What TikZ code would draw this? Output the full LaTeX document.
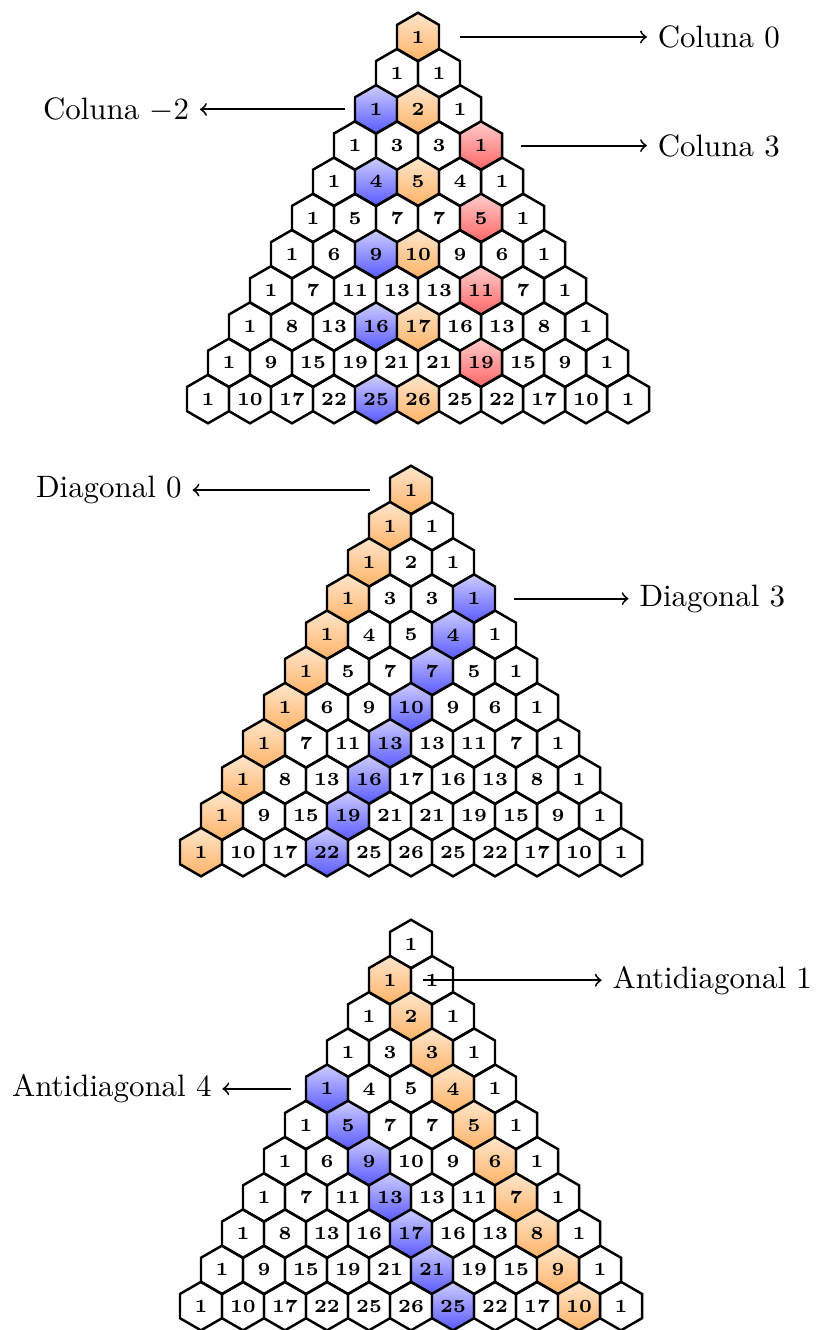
\documentclass[tikz,border=0pt]{standalone}
\usetikzlibrary{shapes.geometric}

\tikzset{
  hexa/.style={regular polygon, regular polygon sides=6, shape border rotate=30,
    minimum size=0.5513cm, inner sep=0pt, draw, thick,
    font=\fontsize{6}{7}\selectfont\bfseries},
  laranja/.style={top color=orange!20, bottom color=orange!60},
  azul/.style={top color=blue!20, bottom color=blue!65},
  vermelho/.style={top color=red!20, bottom color=red!60},
  hexcor/.style={},
  seta/.style={->, semithick}
}

\begin{document}
\begin{tikzpicture}[x=0.2387cm, y=0.4115cm]
\useasboundingbox (-4.751cm,0.4205cm) rectangle (4.524cm,-14.696cm);

% colunas
\foreach \n in {0,...,10}
  \foreach \k in {0,...,\n} {
    \pgfmathtruncatemacro\val{1+\k*(\n-\k)}
    \pgfmathtruncatemacro\col{2*\k-\n}
    \ifnum\col=0 \tikzset{hexcor/.style={laranja}}\fi
    \ifnum\col=-2 \tikzset{hexcor/.style={azul}}\fi
    \ifnum\col=3 \tikzset{hexcor/.style={vermelho}}\fi
    \node[hexa, hexcor] (c-\n-\k) at (\col,-\n) {\val};
  }

\coordinate (sc0) at (2,0);
\coordinate (scm2) at (-3.48,-2);
\coordinate (sc3) at (4.89,-3);
\node[anchor=west] (lc0) at (10.9,0) {Coluna 0};
\node[anchor=east] (lcm2) at (-10.38,-2) {Coluna $-2$};
\node[anchor=west] (lc3) at (10.9,-3) {Coluna 3};
\draw[seta] (sc0) -- (lc0);
\draw[seta] (scm2) -- (lcm2);
\draw[seta] (sc3) -- (lc3);

% diagonais
\begin{scope}[xshift=-0.0796cm, yshift=-5.149cm]
\foreach \n in {0,...,10}
  \foreach \k in {0,...,\n} {
    \pgfmathtruncatemacro\val{1+\k*(\n-\k)}
    \ifnum\k=0 \tikzset{hexcor/.style={laranja}}\fi
    \ifnum\k=3 \tikzset{hexcor/.style={azul}}\fi
    \node[hexa, hexcor] (d-\n-\k) at (2*\k-\n,-\n) {\val};
  }

\coordinate (sd0) at (-1.95,0);
\coordinate (sd3) at (4.92,-3);
\node[anchor=east] (ld0) at (-10.4,0) {Diagonal 0};
\node[anchor=west] (ld3) at (10.36,-3) {Diagonal 3};
\draw[seta] (sd0) -- (ld0);
\draw[seta] (sd3) -- (ld3);
\end{scope}

% antidiagonais
\begin{scope}[xshift=-0.0796cm, yshift=-10.309cm]
\foreach \n in {0,...,10}
  \foreach \k in {0,...,\n} {
    \pgfmathtruncatemacro\val{1+\k*(\n-\k)}
    \pgfmathtruncatemacro\anti{\n-\k}
    \ifnum\anti=1 \tikzset{hexcor/.style={laranja}}\fi
    \ifnum\anti=4 \tikzset{hexcor/.style={azul}}\fi
    \node[hexa, hexcor] (a-\n-\k) at (2*\k-\n,-\n) {\val};
  }

\coordinate (sa1) at (0.56,-1);
\coordinate (sa4) at (-5.71,-4);
\node[anchor=west] (la1) at (9.08,-1) {Antidiagonal 1};
\node[anchor=east] (la4) at (-8.98,-4) {Antidiagonal 4};
\draw[seta] (sa1) -- (la1);
\draw[seta] (sa4) -- (la4);
\end{scope}
\end{tikzpicture}
\end{document}
